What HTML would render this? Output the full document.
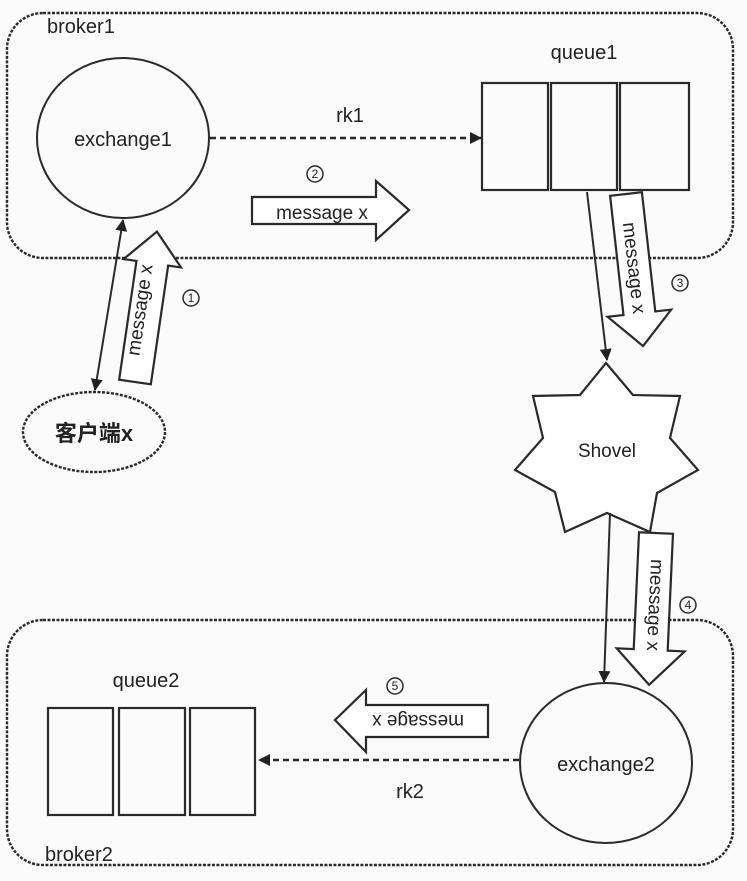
<!DOCTYPE html>
<html><head><meta charset="utf-8"><style>
html,body{margin:0;padding:0;background:#fff;}
svg{display:block;}
text{font-family:"Liberation Sans","Noto Sans CJK SC",sans-serif;fill:#222;}
</style></head><body>
<svg width="747" height="881" viewBox="0 0 747 881" xmlns="http://www.w3.org/2000/svg">
<defs>
<marker id="ah" markerWidth="12" markerHeight="12" refX="11" refY="6" orient="auto" markerUnits="userSpaceOnUse">
<path d="M0,0 L12,6 L0,12 z" fill="#222"/></marker>
<marker id="as" markerWidth="12" markerHeight="12" refX="1" refY="6" orient="auto" markerUnits="userSpaceOnUse">
<path d="M12,0 L0,6 L12,12 z" fill="#222"/></marker>
</defs>
<rect width="747" height="881" fill="#fbfbfb"/>
<g stroke="#2a2a2a" fill="none">
<rect x="7" y="13" width="726" height="245" rx="36" stroke-width="2.4" stroke-dasharray="3,1.5"/>
<rect x="7" y="620" width="726" height="245" rx="36" stroke-width="2.4" stroke-dasharray="3,1.5"/>
<ellipse cx="123" cy="138" rx="86" ry="80" stroke-width="2"/>
<rect x="482" y="83" width="66" height="107" stroke-width="2.2"/>
<rect x="551" y="83" width="66" height="107" stroke-width="2.2"/>
<rect x="620" y="83" width="69" height="107" stroke-width="2.2"/>
<line x1="210" y1="138" x2="481" y2="138" stroke-width="2.6" stroke-dasharray="6,4" marker-end="url(#ah)"/>
<ellipse cx="94" cy="432" rx="71" ry="40" stroke-width="2.4" stroke-dasharray="3,1.5"/>
<line x1="123" y1="220" x2="95" y2="390" stroke-width="2" marker-end="url(#ah)" marker-start="url(#as)"/>
<line x1="587" y1="192" x2="607" y2="360" stroke-width="2" marker-end="url(#ah)"/>
<polygon points="606,363 633,395 680,396 670,438 698,470 657,493 650,532 607,513 565,532 555,492 515,470 543,438 533,396 580,395" stroke-width="2.2" fill="#fff"/>
<line x1="610" y1="513" x2="604" y2="682" stroke-width="2" marker-end="url(#ah)"/>
<ellipse cx="606" cy="763" rx="86" ry="80" stroke-width="2"/>
<rect x="48" y="708" width="65" height="107" stroke-width="2.2"/>
<rect x="119" y="708" width="66" height="107" stroke-width="2.2"/>
<rect x="190" y="708" width="65" height="107" stroke-width="2.2"/>
<line x1="519" y1="760" x2="259" y2="760" stroke-width="2.6" stroke-dasharray="6,4" marker-end="url(#ah)"/>
<polygon points="252,197 376,197 376,181 409,210 376,240 376,224 252,224" stroke-width="2.2" fill="#fff"/>
<g transform="translate(135,382) rotate(-81.7)"><polygon points="0,-16 120,-16 120,-29 152,0 120,29 120,16 0,16" stroke-width="2.2" fill="#fff"/></g>
<g transform="translate(626,194) rotate(83.6)"><polygon points="0,-16 120,-16 120,-32 153,0 120,32 120,16 0,16" stroke-width="2.2" fill="#fff"/></g>
<g transform="translate(656,533) rotate(92.6)"><polygon points="0,-17 117,-17 117,-34 152,0 117,34 117,17 0,17" stroke-width="2.2" fill="#fff"/></g>
<polygon points="488,705 366,705 366,690 335,720 366,752 366,737 488,737" stroke-width="2.2" fill="#fff"/>
</g>
<g font-size="20">
<text x="47" y="33">broker1</text>
<text x="45" y="861">broker2</text>
<text x="123" y="146" text-anchor="middle">exchange1</text>
<text x="606" y="771" text-anchor="middle">exchange2</text>
<text x="584" y="59" text-anchor="middle">queue1</text>
<text x="146" y="687" text-anchor="middle">queue2</text>
<text x="350" y="122" text-anchor="middle">rk1</text>
<text x="410" y="798" text-anchor="middle">rk2</text>
<text x="607" y="457" text-anchor="middle" font-size="19">Shovel</text>
<text x="94" y="441" text-anchor="middle" font-size="22" font-weight="bold">客户端x</text>
<text x="322" y="219" text-anchor="middle" font-size="19">message x</text>
<g transform="translate(140,310) rotate(-81.7)"><text text-anchor="middle" y="6" font-size="19">message x</text></g>
<g transform="translate(634,268) rotate(83.6)"><text text-anchor="middle" y="6" font-size="19">message x</text></g>
<g transform="translate(655,605) rotate(92.6)"><text text-anchor="middle" y="6" font-size="19">message x</text></g>
<g transform="translate(418,721) rotate(180)"><text text-anchor="middle" y="6" font-size="19">message x</text></g>
</g>
<g stroke="#2a2a2a" fill="none" stroke-width="1.5">
<circle cx="191" cy="298" r="8"/><circle cx="315" cy="174" r="8"/><circle cx="680" cy="283" r="8"/><circle cx="688" cy="605" r="8"/><circle cx="395" cy="686" r="8"/>
</g>
<g font-size="12" text-anchor="middle">
<text x="191" y="302">1</text><text x="315" y="178">2</text><text x="680" y="287">3</text><text x="688" y="609">4</text><text x="395" y="690">5</text>
</g>
</svg>
</body></html>
